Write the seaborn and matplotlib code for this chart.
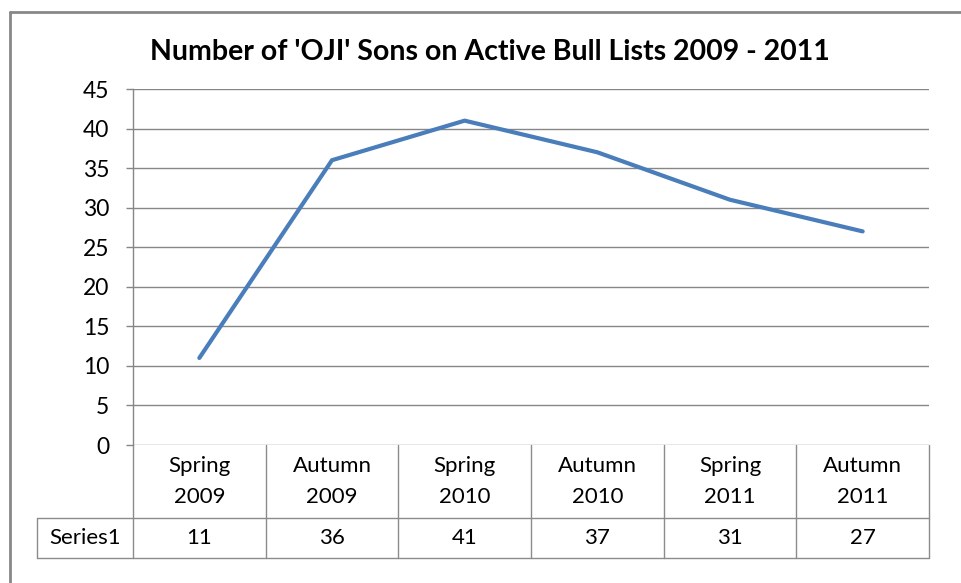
import matplotlib
matplotlib.use("Agg")
import matplotlib.pyplot as plt
import matplotlib.transforms as mtransforms
import seaborn as sns
import pandas as pd

categories = ["Spring\n2009", "Autumn\n2009", "Spring\n2010", "Autumn\n2010", "Spring\n2011", "Autumn\n2011"]
values = [11, 36, 41, 37, 31, 27]
series_name = "Series1"
title = "Number of 'OJI' Sons on Active Bull Lists 2009 - 2011"
yticks = [0, 5, 10, 15, 20, 25, 30, 35, 40, 45]

sns.set_theme(style="white")
plt.rcParams["font.family"] = ["Lato", "DejaVu Sans"]

W, H = 961, 583
fig = plt.figure(figsize=(W / 100, H / 100), dpi=100)
fig.patch.set_facecolor("white")

L, R, T, B = 133, 929, 89, 445
ax = fig.add_axes([L / W, 1 - B / H, (R - L) / W, (B - T) / H])

df = pd.DataFrame({"x": range(len(values)), "y": values})
sns.lineplot(data=df, x="x", y="y", ax=ax, color="#4A7EBB", linewidth=3, solid_capstyle="round")

FS = 16
ax.set_xlim(-0.5, len(values) - 0.5)
ax.set_ylim(0, 45)
ax.set_yticks(yticks)
ax.set_yticklabels([str(v) for v in yticks], fontsize=FS + 0.5, color="black")
ax.set_xticks([])
ax.set_xlabel("")
ax.set_ylabel("")
grid_c = "#868686"
for v in yticks:
    ax.axhline(v, color=grid_c, linewidth=1, zorder=0)
for s in ["top", "right", "bottom"]:
    ax.spines[s].set_visible(False)
ax.spines["left"].set_color(grid_c)
ax.spines["left"].set_linewidth(1)
ax.tick_params(axis="y", length=5, width=1, color=grid_c, pad=12, left=True)

# data table below
ah = B - T
row1 = -(518 - B) / ah
row2 = -(558 - B) / ah
left_lab = (37 - L) / (R - L)
blend = mtransforms.blended_transform_factory(ax.transData, ax.transAxes)
tc = "#8c8c8c"
n = len(values)
for i in range(n + 1):
    ax.plot([i - 0.5, i - 0.5], [0, row2], transform=blend, color=tc, lw=1, clip_on=False)
for yy in (row1, row2):
    ax.plot([left_lab, 1], [yy, yy], transform=ax.transAxes, color=tc, lw=1, clip_on=False)
ax.plot([left_lab, left_lab], [row1, row2], transform=ax.transAxes, color=tc, lw=1, clip_on=False)
for i, (c, v) in enumerate(zip(categories, values)):
    ax.text(i, row1 / 2, c, transform=blend, ha="center", va="center", fontsize=FS,
            linespacing=1.65, color="black")
    ax.text(i, (row1 + row2) / 2, str(v), transform=blend, ha="center", va="center",
            fontsize=FS, color="black")
ax.text((left_lab + 0) / 2, (row1 + row2) / 2, series_name, transform=ax.transAxes,
        ha="center", va="center", fontsize=FS, color="black")

fig.text(490 / W, 1 - 52 / H, title, ha="center", va="center", fontsize=20.5,
         fontweight="bold", color="black")

# outer chart border
fig.add_artist(plt.Line2D([10 / W, 10 / W], [1 - 12 / H, 0], transform=fig.transFigure,
                          color="#888888", lw=2))
fig.add_artist(plt.Line2D([10 / W, 1], [1 - 12 / H, 1 - 12 / H], transform=fig.transFigure,
                          color="#888888", lw=2))

fig.savefig("out.png", dpi=100)
